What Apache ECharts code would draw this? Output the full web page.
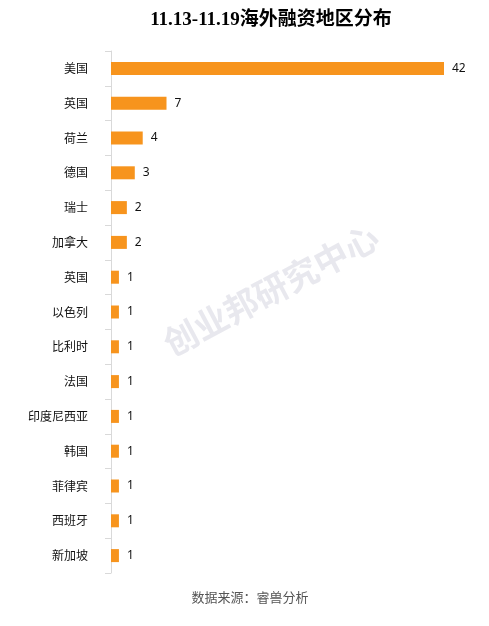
<!DOCTYPE html>
<html>
<head>
<meta charset="utf-8">
<script src="https://cdn.jsdelivr.net/npm/echarts@6/dist/echarts.min.js"></script>
<style>
html, body { margin: 0; padding: 0; background: #fff; }
#main { width: 489px; height: 626px; }
</style>
</head>
<body>
<div id="main"></div>
<script>
var regions = ['美国', '英国', '荷兰', '德国', '瑞士', '加拿大', '英国', '以色列', '比利时', '法国', '印度尼西亚', '韩国', '菲律宾', '西班牙', '新加坡'];
var counts = [42, 7, 4, 3, 2, 2, 1, 1, 1, 1, 1, 1, 1, 1, 1];

var chart = echarts.init(document.getElementById('main'));

var option = {
	backgroundColor: '#fff',
	animation: false,
	title: {
		text: '11.13-11.19海外融资地区分布',
		left: 266,
		textAlign: 'center',
		top: 6,
		textStyle: {
			fontFamily: '"Liberation Serif", "Noto Sans CJK SC", serif',
			fontSize: 19,
			fontWeight: 'bold',
			color: '#000'
		}
	},
	grid: {
		left: 111,
		right: 45,
		top: 51,
		bottom: 53,
		containLabel: false
	},
	xAxis: {
		type: 'value',
		min: 0,
		max: 42,
		show: false
	},
	yAxis: {
		type: 'category',
		data: regions,
		inverse: true,
		axisLine: { lineStyle: { color: '#d9d9d9' } },
		axisTick: { show: true, length: 6, lineStyle: { color: '#d9d9d9' } },
		axisLabel: {
			margin: 23,
			fontFamily: '"Noto Sans CJK SC", sans-serif',
			fontSize: 12,
			color: '#111'
		}
	},
	series: [{
		type: 'bar',
		data: counts,
		barWidth: 13,
		itemStyle: { color: '#f7941d' },
		label: {
			show: true,
			position: 'right',
			distance: 8,
			fontFamily: '"Noto Sans", sans-serif',
			fontSize: 12,
			color: '#111'
		}
	}],
	graphic: [{
		type: 'text',
		x: 271,
		y: 290,
		rotation: Math.PI * 28 / 180,
		style: {
			text: '创业邦研究中心',
			fontFamily: '"Noto Sans CJK SC", sans-serif',
			fontSize: 34,
			fontWeight: 'bold',
			fill: 'rgba(205,205,218,0.45)',
			align: 'center',
			verticalAlign: 'middle'
		}
	}, {
		type: 'text',
		x: 250,
		y: 597,
		style: {
			text: '数据来源：睿兽分析',
			fontFamily: '"Noto Sans CJK SC", sans-serif',
			fontSize: 13,
			fill: '#555',
			align: 'center',
			verticalAlign: 'middle'
		}
	}]
};

chart.setOption(option);
</script>
</body>
</html>
